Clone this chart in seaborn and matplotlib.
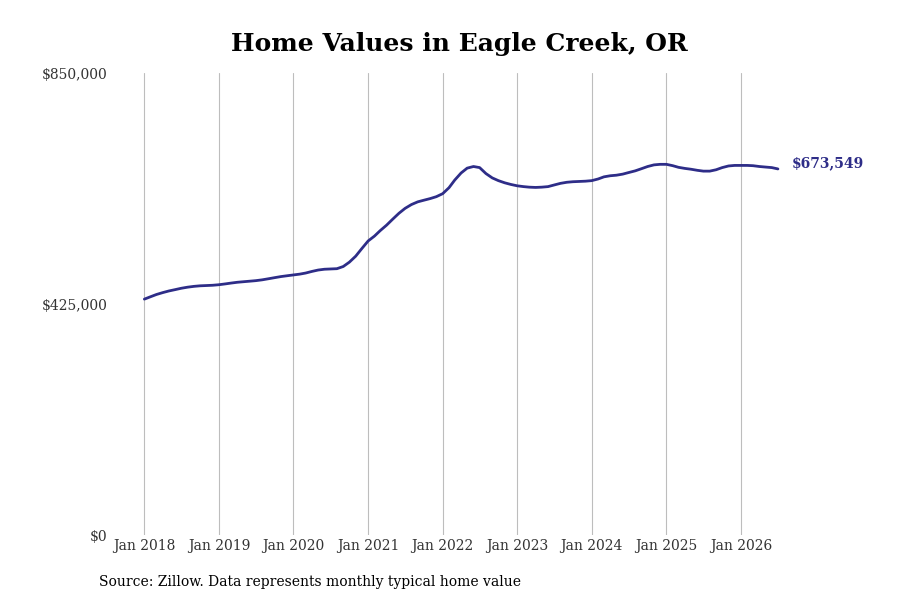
import pandas as pd
import matplotlib
matplotlib.use("Agg")
import matplotlib.pyplot as plt
import matplotlib.dates as mdates
import matplotlib.ticker as mticker
import seaborn as sns

# Monthly typical home value (thousands of $), Jan 2018 - Jul 2026
values_2018 = [434, 438.5, 442.5, 446, 449, 451.5, 454, 456, 457.5, 458.5, 459, 459.5]
values_2019 = [460.5, 462, 463.5, 465, 466, 467, 468, 469.5, 471.5, 473.5, 475.5, 477]
values_2020 = [478.5, 480, 482, 485, 487.5, 489, 489.5, 490, 494, 502, 513, 527]
values_2021 = [541, 550, 560, 570, 581, 592, 601, 608, 613, 616, 619, 622.5]
values_2022 = [628, 639, 653, 666, 675, 678, 676, 665, 657, 652, 648, 645]
values_2023 = [642.5, 641, 640, 639.5, 640, 641, 644, 647, 649, 650, 650.5, 651]
values_2024 = [652, 655, 659, 661, 662, 664, 667, 670, 674, 678, 681, 682]
values_2025 = [682, 679.5, 676.5, 674.5, 673, 671, 669.5, 669.5, 672, 676, 679, 680]
values_2026 = [680, 680, 679.5, 678, 677, 676, 673.549]

title = "Home Values in Eagle Creek, OR"
source = "Source: Zillow. Data represents monthly typical home value"
y_ticks = [0, 425000, 850000]
line_color = "#2e2d88"

values = (values_2018 + values_2019 + values_2020 + values_2021 + values_2022
          + values_2023 + values_2024 + values_2025 + values_2026)
df = pd.DataFrame({
    "Date": pd.date_range("2018-01-01", periods=len(values), freq="MS"),
    "Value": [v * 1000 for v in values],
})

sns.set_theme(style="white")
plt.rcParams["font.family"] = ["DejaVu Serif"]

fig = plt.figure(figsize=(9, 6), dpi=100)
ax = fig.add_axes([0.13, 0.1083, 0.76, 0.77])

sns.lineplot(data=df, x="Date", y="Value", color=line_color, linewidth=2, ax=ax)

ax.set_ylim(0, 850000)
ax.set_xlim(pd.Timestamp("2017-08-20"), pd.Timestamp("2026-10-22"))
ax.set_yticks(y_ticks)
ax.yaxis.set_major_formatter(mticker.FuncFormatter(lambda v, p: f"${v:,.0f}"))
ax.xaxis.set_major_locator(mdates.YearLocator())
ax.xaxis.set_major_formatter(mdates.DateFormatter("%b %Y"))
ax.tick_params(axis="both", length=0, labelsize=10, labelcolor="#333333")
ax.tick_params(axis="y", pad=7)
ax.tick_params(axis="x", pad=3)
ax.grid(axis="x", color="#bdbdbd", linewidth=0.8)
ax.grid(axis="y", visible=False)
for s in ax.spines.values():
    s.set_visible(False)
ax.set_xlabel("")
ax.set_ylabel("")

ax.set_title(title, fontsize=18, fontweight="bold", pad=16, color="black")

last = df.iloc[-1]
ax.annotate(f"${last['Value']:,.0f}", xy=(last["Date"], last["Value"]),
            xytext=(14, 6), textcoords="offset pixels", va="center", ha="left",
            fontsize=10, fontweight="bold", color=line_color)

fig.text(0.11, 0.03, source, fontsize=10, va="center", ha="left", color="black")

fig.savefig("out.png", dpi=100)
